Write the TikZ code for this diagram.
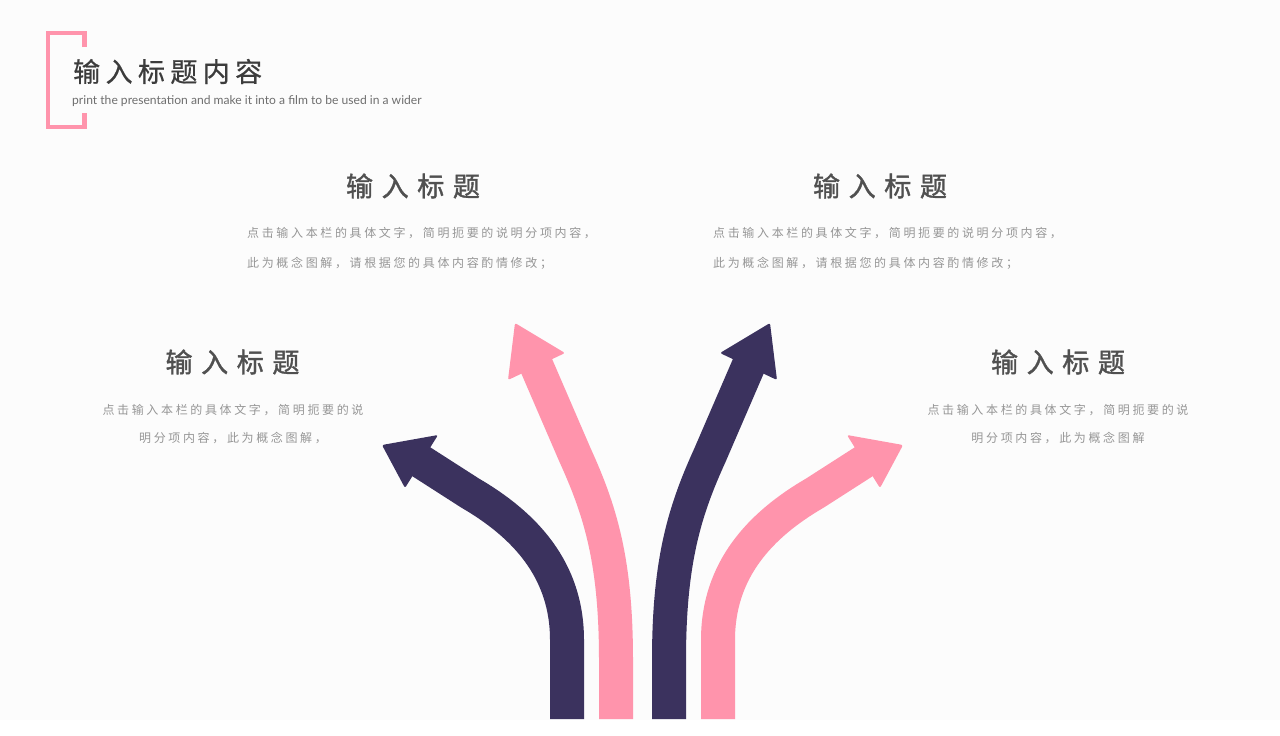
\documentclass[tikz,border=0pt]{standalone}
\usepackage{fontspec}
\usepackage{tikz}
\setmainfont{Lato}
\newfontfamily\cjktitle[LetterSpace=20,FakeBold=0.6]{Noto Sans CJK SC}
\newfontfamily\cjkhead[LetterSpace=32,FakeBold=1.4]{Noto Sans CJK SC}
\newfontfamily\cjkbody[LetterSpace=22]{Noto Sans CJK SC}
\definecolor{arrowdark}{RGB}{59,50,94}
\definecolor{arrowpink}{RGB}{255,148,172}
\definecolor{titlegray}{RGB}{60,60,60}
\definecolor{headgray}{RGB}{80,80,80}
\definecolor{bodygray}{RGB}{150,150,150}
\definecolor{subgray}{RGB}{110,110,110}
\definecolor{bgwhite}{RGB}{252,252,252}

\begin{document}
\begin{tikzpicture}[x=1pt,y=-1pt,
  heading/.style={text=headgray,font=\cjkhead\fontsize{27}{30}\selectfont,inner sep=0pt},
  bodytext/.style={text=bodygray,font=\cjkbody\fontsize{12}{30}\selectfont,inner sep=0pt},
  bodyside/.style={bodytext,font=\cjkbody\fontsize{12}{28}\selectfont,align=center},
  shaft/.style={line width=34pt}]
\fill[bgwhite] (0,0) rectangle (1280,720);

% title block
\draw[arrowpink,line width=4.5pt] (84.5,47) -- (84.5,33.2) -- (48.2,33.2) -- (48.2,127.2) -- (84.5,127.2) -- (84.5,113);
\node[anchor=west,inner sep=0pt,text=titlegray,font=\cjktitle\fontsize{27}{30}\selectfont] (title) at (73,71.5) {输入标题内容};
\node[anchor=west,inner sep=0pt,text=subgray,font=\fontsize{12.1}{14}\selectfont] (subtitle) at (72,101) {print the presentation and make it into a film to be used in a wider};

% headings and texts
\node[heading] (headtl) at (413,186) {输入标题};
\node[heading] (headtr) at (880,186) {输入标题};
\node[heading] (headml) at (232.5,362) {输入标题};
\node[heading] (headmr) at (1058,362) {输入标题};
\node[bodytext,anchor=west,align=left] (texttl) at (247,248) {点击输入本栏的具体文字，简明扼要的说明分项内容，\\此为概念图解，请根据您的具体内容酌情修改；};
\node[bodytext,anchor=west,align=left] (texttr) at (713,248) {点击输入本栏的具体文字，简明扼要的说明分项内容，\\此为概念图解，请根据您的具体内容酌情修改；};
\node[bodyside] (textml) at (233,424) {点击输入本栏的具体文字，简明扼要的说\\明分项内容，此为概念图解，};
\node[bodyside] (textmr) at (1058,424) {点击输入本栏的具体文字，简明扼要的说\\明分项内容，此为概念图解};

% arrows
\draw[shaft,arrowdark] (567,719) -- (567,640) .. controls (567,570) and (525,525) .. (470,493) -- (417,459);
\fill[arrowdark,rounded corners=2pt] (382,445) -- (438,435) -- (405,488) -- cycle;
\draw[shaft,arrowpink] (616,719) -- (616,660) .. controls (616,560) and (600,510) .. (575,455) -- (534,360);
\fill[arrowpink,rounded corners=2pt] (515,323) -- (565,353) -- (508,380) -- cycle;
\draw[shaft,arrowdark] (669,719) -- (669,660) .. controls (669,560) and (685,510) .. (710,455) -- (751,360);
\fill[arrowdark,rounded corners=2pt] (770,323) -- (720,353) -- (777,380) -- cycle;
\draw[shaft,arrowpink] (718,719) -- (718,640) .. controls (718,570) and (760,525) .. (815,493) -- (868,459);
\fill[arrowpink,rounded corners=2pt] (903,445) -- (847,435) -- (880,488) -- cycle;
\end{tikzpicture}
\end{document}
